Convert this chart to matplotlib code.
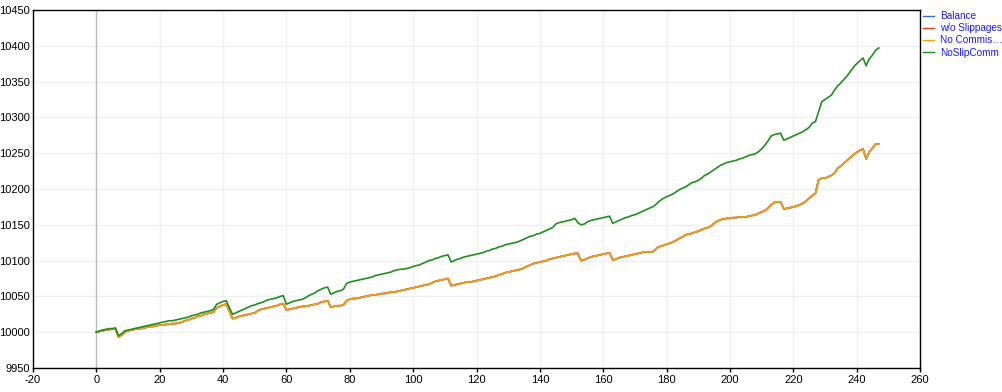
import matplotlib
matplotlib.use("Agg")
import matplotlib.pyplot as plt

# ---- data ----
series_names = ["Balance", "w/o Slippages", "No Commis...", "NoSlipComm"]

no_commis = [
    10000, 10001, 10002, 10003, 10004, 10004, 10005, 9993, 9996, 10000,
    10002, 10003, 10004, 10005, 10005, 10006, 10007, 10008, 10008, 10009,
    10010, 10010, 10011, 10011, 10012, 10012, 10013, 10014, 10016, 10017,
    10019, 10020, 10022, 10023, 10025, 10026, 10027, 10028, 10034, 10036,
    10038, 10039, 10029, 10019, 10020, 10022, 10023, 10024, 10025, 10026,
    10027, 10030, 10032, 10033, 10034, 10035, 10036, 10037, 10039, 10040,
    10031, 10032, 10033, 10034, 10035, 10036, 10036, 10037, 10038, 10039,
    10040, 10042, 10043, 10044, 10035, 10036, 10037, 10037, 10038, 10044,
    10046, 10047, 10047, 10048, 10049, 10050, 10051, 10052, 10052, 10053,
    10054, 10054, 10055, 10056, 10056, 10057, 10058, 10059, 10060, 10061,
    10062, 10063, 10064, 10065, 10066, 10067, 10069, 10071, 10072, 10073,
    10074, 10075, 10065, 10066, 10067, 10068, 10069, 10070, 10070, 10071,
    10072, 10073, 10074, 10075, 10076, 10077, 10078, 10080, 10081, 10083,
    10084, 10085, 10086, 10087, 10088, 10090, 10092, 10094, 10096, 10097,
    10098, 10099, 10100, 10102, 10103, 10104, 10105, 10106, 10107, 10108,
    10109, 10110, 10110, 10100, 10101, 10103, 10105, 10106, 10107, 10108,
    10109, 10110, 10111, 10101, 10102, 10104, 10105, 10106, 10107, 10108,
    10109, 10110, 10111, 10112, 10112, 10112, 10113, 10118, 10120, 10121,
    10123, 10124, 10126, 10128, 10131, 10133, 10136, 10137, 10138, 10140,
    10141, 10143, 10145, 10146, 10148, 10152, 10155, 10157, 10158, 10159,
    10159, 10160, 10160, 10161, 10161, 10161, 10162, 10163, 10164, 10166,
    10168, 10170, 10173, 10178, 10181, 10182, 10182, 10172, 10173, 10174,
    10175, 10176, 10178, 10180, 10183, 10187, 10191, 10194, 10213, 10215,
    10215, 10217, 10219, 10222, 10229, 10232, 10236, 10240, 10244, 10248,
    10251, 10254, 10256, 10242, 10252, 10257, 10263, 10263,
]

noslipcomm = [
    10000, 10002, 10003, 10004, 10005, 10005, 10006, 9995, 9998, 10002,
    10003, 10004, 10005, 10006, 10007, 10008, 10009, 10010, 10011, 10012,
    10013, 10014, 10015, 10016, 10016, 10017, 10018, 10019, 10020, 10021,
    10023, 10024, 10025, 10027, 10028, 10029, 10030, 10032, 10039, 10041,
    10043, 10044, 10034, 10025, 10027, 10029, 10031, 10033, 10035, 10037,
    10038, 10040, 10041, 10043, 10045, 10046, 10047, 10048, 10050, 10051,
    10039, 10041, 10043, 10044, 10045, 10046, 10048, 10051, 10053, 10055,
    10058, 10060, 10062, 10063, 10053, 10055, 10057, 10058, 10060, 10068,
    10070, 10071, 10072, 10073, 10074, 10075, 10076, 10077, 10079, 10080,
    10081, 10082, 10083, 10084, 10086, 10087, 10088, 10088, 10089, 10090,
    10092, 10093, 10094, 10096, 10098, 10100, 10101, 10103, 10104, 10106,
    10107, 10108, 10098, 10100, 10102, 10103, 10105, 10106, 10107, 10108,
    10109, 10110, 10111, 10113, 10114, 10116, 10117, 10119, 10120, 10122,
    10123, 10124, 10125, 10126, 10128, 10130, 10132, 10134, 10135, 10137,
    10138, 10140, 10142, 10144, 10146, 10151, 10153, 10154, 10155, 10156,
    10157, 10159, 10153, 10150, 10151, 10154, 10156, 10157, 10158, 10159,
    10160, 10161, 10162, 10152, 10154, 10156, 10158, 10160, 10161, 10163,
    10164, 10166, 10168, 10170, 10172, 10174, 10176, 10180, 10184, 10187,
    10189, 10191, 10193, 10196, 10199, 10201, 10203, 10206, 10209, 10210,
    10212, 10215, 10219, 10221, 10224, 10227, 10230, 10233, 10235, 10237,
    10238, 10239, 10240, 10242, 10243, 10245, 10247, 10248, 10249, 10252,
    10256, 10261, 10267, 10274, 10276, 10277, 10278, 10268, 10270, 10272,
    10274, 10276, 10278, 10280, 10283, 10286, 10292, 10294, 10308, 10322,
    10325, 10328, 10331, 10338, 10344, 10348, 10353, 10358, 10364, 10370,
    10375, 10379, 10383, 10372, 10382, 10387, 10394, 10397,
]

balance = list(no_commis)
wo_slippages = list(no_commis)

x_ticks = [-20, 0, 20, 40, 60, 80, 100, 120, 140, 160, 180, 200, 220, 240, 260]
y_ticks = [9950, 10000, 10050, 10100, 10150, 10200, 10250, 10300, 10350, 10400, 10450]

colors = ["#2f6fd6", "#e0401a", "#f5a00f", "#1f8f1f"]

# ---- figure ----
plt.rcParams["font.family"] = ["Liberation Sans", "DejaVu Sans"]
fig = plt.figure(figsize=(10.02, 3.92), dpi=100)
W, H = 1002, 392
ax = fig.add_axes([33 / W, (H - 368) / H, (920 - 33) / W, (368 - 10) / H])

idx = list(range(len(no_commis)))
all_series = [balance, wo_slippages, no_commis, noslipcomm]
for name, vals, c in zip(series_names, all_series, colors):
    ax.plot(idx, vals, color=c, lw=1.2, label=name, zorder=3)

ax.axvline(0, color="#bdbdbd", lw=1.0, zorder=2)

ax.set_xlim(-20, 260)
ax.set_ylim(9950, 10450)
ax.set_xticks(x_ticks)
ax.set_yticks(y_ticks)
ax.set_xticklabels([str(v) for v in x_ticks])
ax.set_yticklabels([str(v) for v in y_ticks])
ax.grid(True, color="#f0f0f0", lw=1.0, zorder=0)
ax.set_axisbelow(True)
ax.tick_params(axis="both", labelsize=8, length=3, width=1, pad=2, color="black")
ax.tick_params(axis="y", length=0, pad=2)
for s in ax.spines.values():
    s.set_color("black")
    s.set_linewidth(1.0)

leg = fig.legend(
    handles=ax.get_lines()[:4],
    labels=series_names,
    loc="upper left",
    bbox_to_anchor=(921 / W, 1 - 9 / H),
    frameon=False,
    fontsize=7.2,
    handlelength=1.1,
    handletextpad=0.6,
    labelspacing=0.22,
    borderaxespad=0.0,
    borderpad=0.2,
    labelcolor="#1a1aff",
)
leg.get_texts()[2].set_text("No Commis\u2026")
for l in leg.get_lines():
    l.set_linewidth(1.0)

fig.savefig("out.png", dpi=100)
